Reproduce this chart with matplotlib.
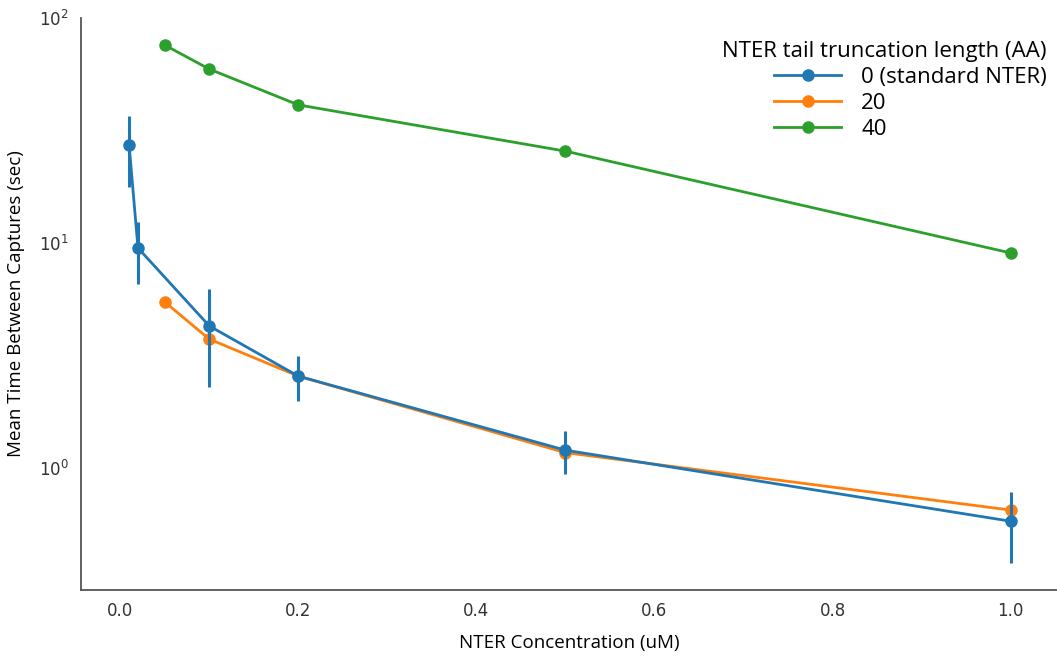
import matplotlib
matplotlib.use('Agg')
import matplotlib.pyplot as plt
import numpy as np

# Data
conc_0 = [0.01, 0.02, 0.1, 0.2, 0.5, 1.0]
time_0 = [27.3, 9.5, 4.28, 2.56, 1.20, 0.58]
err_lo_0 = [17.7, 6.57, 2.29, 1.99, 0.94, 0.38]
err_hi_0 = [36.6, 12.4, 6.25, 3.15, 1.46, 0.78]

conc_20 = [0.05, 0.1, 0.2, 0.5, 1.0]
time_20 = [5.47, 3.74, 2.56, 1.17, 0.65]

conc_40 = [0.05, 0.1, 0.2, 0.5, 1.0]
time_40 = [75.8, 59.3, 41.1, 25.6, 9.03]

labels = ['0 (standard NTER)', '20', '40']
colors = ['#1f77b4', '#ff7f0e', '#2ca02c']

fig = plt.figure(figsize=(10.57, 6.58), dpi=100)
ax = fig.add_axes([81 / 1057, 68 / 658, (1057 - 81) / 1057, (590 - 18) / 658])

yerr = [np.array(time_0) - np.array(err_lo_0), np.array(err_hi_0) - np.array(time_0)]
ax.errorbar(conc_0, time_0, yerr=yerr, color=colors[0], lw=0, elinewidth=2.2, capsize=0, zorder=3)
h0, = ax.plot(conc_0, time_0, color=colors[0], marker='o', ms=8, lw=2, label=labels[0], zorder=3)
h20, = ax.plot(conc_20, time_20, color=colors[1], marker='o', ms=8, lw=2, label=labels[1], zorder=2)
h40, = ax.plot(conc_40, time_40, color=colors[2], marker='o', ms=8, lw=2, label=labels[2], zorder=2)

ax.set_yscale('log')
ax.set_ylim(10 ** (-122 / 225), 100)
ax.set_xlim(-0.044, 1.052)
ax.set_xticks([0.0, 0.2, 0.4, 0.6, 0.8, 1.0])
ax.yaxis.set_minor_locator(matplotlib.ticker.NullLocator())
ax.tick_params(axis='both', length=0, labelsize=12, labelcolor='#333333', pad=9)

for side in ['top', 'right']:
    ax.spines[side].set_visible(False)
for side in ['left', 'bottom']:
    ax.spines[side].set_color('#555555')
    ax.spines[side].set_linewidth(1.3)

ax.set_xlabel('NTER Concentration (uM)', fontfamily='Open Sans', fontsize=13.5, labelpad=10)
ax.set_ylabel('Mean Time Between Captures (sec)', fontfamily='Open Sans', fontsize=13.5, labelpad=10)

leg = ax.legend([h0, h20, h40], labels, title='NTER tail truncation length (AA)', loc='upper right',
                bbox_to_anchor=(1.01, 0.995), frameon=False,
                prop={'family': 'Open Sans', 'size': 16},
                title_fontproperties={'family': 'Open Sans', 'size': 16},
                handlelength=3.0, handletextpad=0.9, labelspacing=0.22, alignment='right')

fig.savefig('out.png', dpi=100)
